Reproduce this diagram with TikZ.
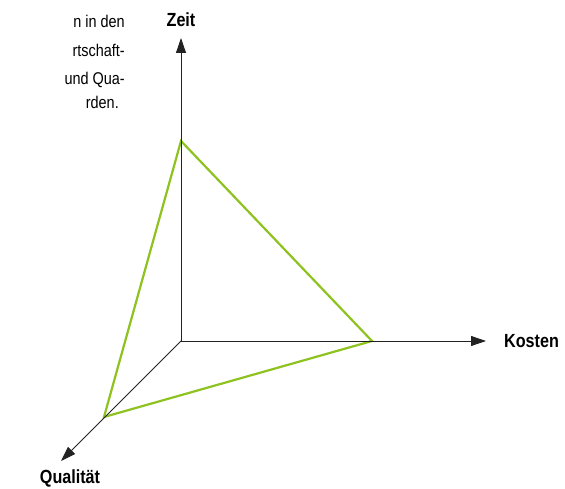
\documentclass[tikz,border=0pt]{standalone}
\usepackage{fontspec}
\setmainfont[FakeStretch=0.85]{Liberation Sans}
\usetikzlibrary{arrows.meta}
\definecolor{tgreen}{HTML}{8DC21F}
\definecolor{axgray}{HTML}{222222}
\begin{document}
\begin{tikzpicture}[x=1pt,y=-1pt,
  axis/.style={draw=axgray,line width=0.8pt,-{Triangle[length=15pt,width=10pt]}},
  tri/.style={draw=tgreen,line width=2.2pt,line join=miter},
  lbl/.style={font=\fontsize{19}{21}\selectfont\bfseries,inner sep=0pt},
  para/.style={font=\fontsize{17}{19}\selectfont,inner sep=0pt,anchor=base east}]
\useasboundingbox (0,0) rectangle (565,489);
\coordinate (O) at (181,341);
\coordinate (Zt) at (181,38);
\coordinate (Kt) at (486,341);
\coordinate (Qt) at (61,461);
\coordinate (A) at (181,141);
\coordinate (B) at (372,341);
\coordinate (C) at (104,417);
\draw[tri] (A) -- (B) -- (C) -- cycle;
\draw[axis] (O) -- (Zt);
\draw[axis] (O) -- (Kt);
\draw[axis] (O) -- (Qt);
\node[lbl] (zeit) at (181,20) {Zeit};
\node[lbl,anchor=west] (kosten) at (504,341) {Kosten};
\node[lbl] (qual) at (70,478) {Qualität};
\node[para] (p1) at (125,28) {n in den};
\node[para] (p2) at (125,57) {rtschaft-};
\node[para] (p3) at (125,85) {und Qua-};
\node[para] (p4) at (119,109) {rden.};
\end{tikzpicture}
\end{document}
